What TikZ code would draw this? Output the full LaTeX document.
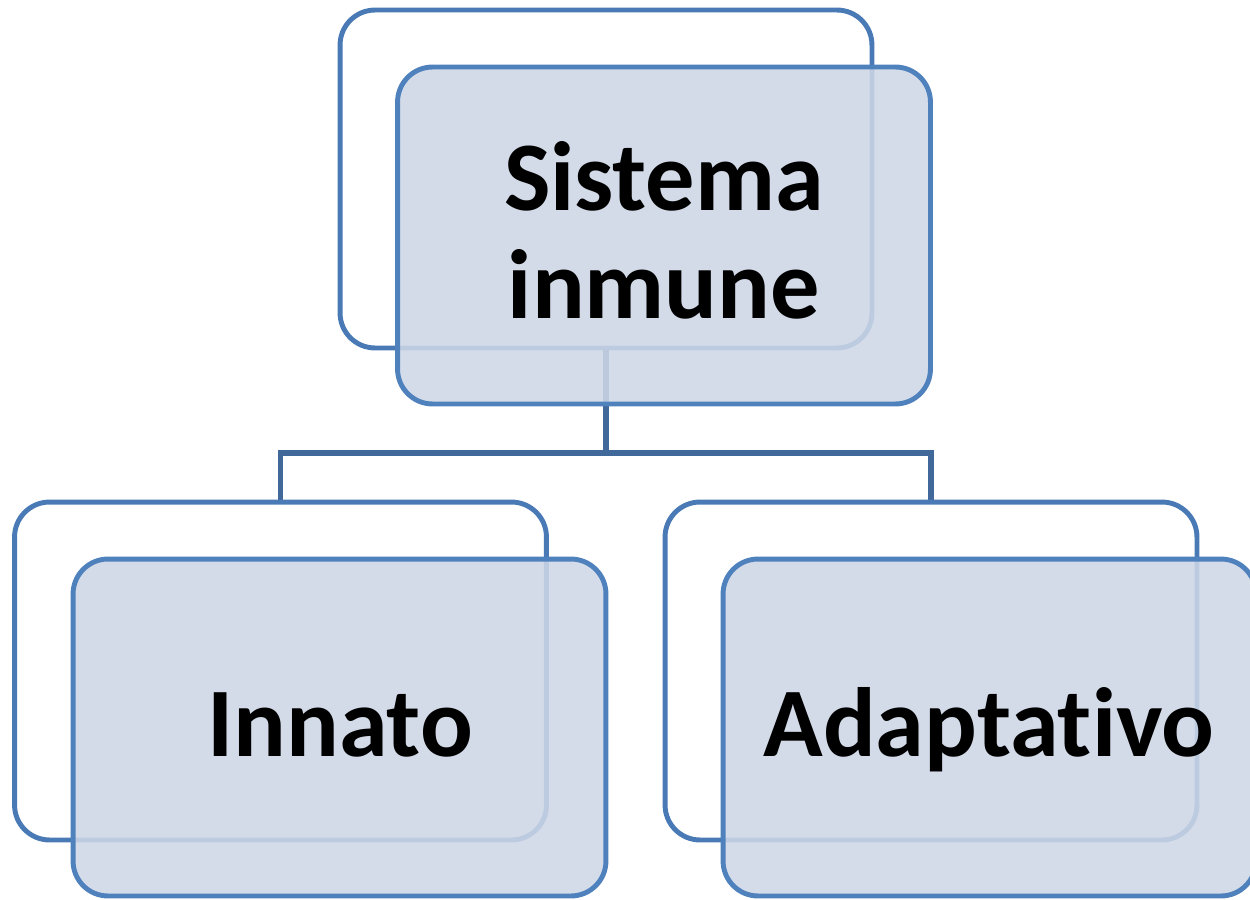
\documentclass[tikz,border=0pt]{standalone}
\usepackage{fontspec}
\setmainfont[Ligatures=NoCommon]{Carlito}
\definecolor{backline}{RGB}{74,122,181}
\definecolor{frontline}{RGB}{79,129,189}
\definecolor{frontfill}{RGB}{206,215,231}
\definecolor{connline}{RGB}{65,104,155}
\begin{document}
\begin{tikzpicture}[x=0.02cm,y=-0.02cm,
  backbox/.style={draw=backline, fill=white, line width=2.8pt, rounded corners=0.7cm,
    minimum width=10.64cm, minimum height=6.76cm, inner sep=0pt},
  frontbox/.style={draw=frontline, fill=frontfill, fill opacity=0.88, line width=2.8pt,
    rounded corners=0.7cm, minimum width=10.66cm, minimum height=6.74cm, inner sep=0pt},
  conn/.style={draw=connline, line width=2.9pt},
  label/.style={font=\fontsize{56}{62}\selectfont\bfseries, anchor=base, inner sep=0pt, text=black}]
\useasboundingbox (0,0) rectangle (1250,899);
% top
\node[backbox] (tb) at (606,179) {};
\coordinate (j) at (606,453);
\draw[conn] (tb.south) -- (j) -| (280.5,502) coordinate (lt);
\draw[conn] (j) -| (931,502) coordinate (rt);
\node[frontbox] (tf) at (664,235.5) {};
\node[label] (t1) at (664,210) {Sistema};
\node[label] (t2) at (664,318) {inmune};
% left
\node[backbox] (lb) at (280.5,671) {};
\node[frontbox] (lf) at (339.5,727.5) {};
\node[label] (ll) at (340,756) {Innato};
% right
\node[backbox] (rb) at (931,671) {};
\node[frontbox] (rf) at (989.5,727.5) {};
\node[label] (rl) at (989,756) {Adaptativo};
\end{tikzpicture}
\end{document}
